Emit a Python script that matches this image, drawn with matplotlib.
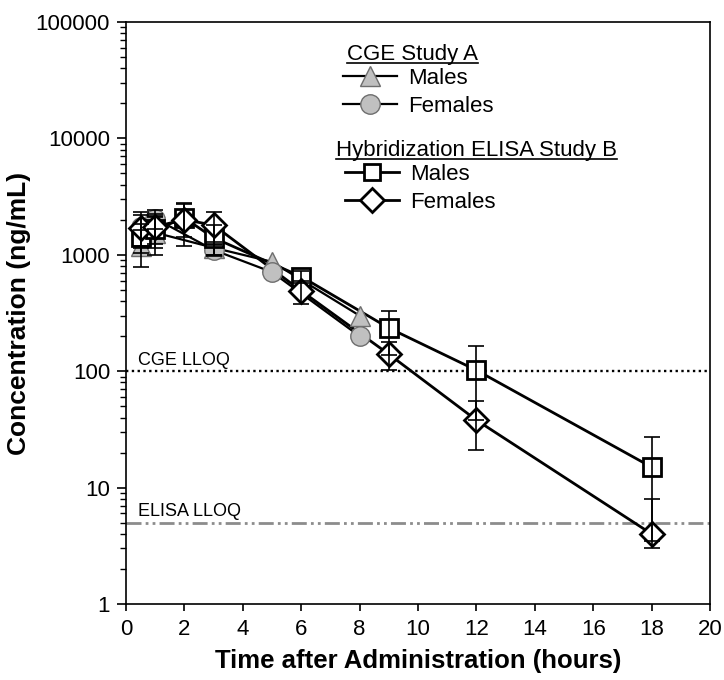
import matplotlib
matplotlib.use("Agg")
import matplotlib.pyplot as plt
from matplotlib.lines import Line2D
import numpy as np

# ---- data ----
cge_time = [0.5, 1, 3, 5, 8]
cge_males = [1200, 1550, 1150, 870, 300]
cge_males_err = [420, 550, 150, np.nan, np.nan]
cge_females = [1750, 2050, 1100, 710, 200]
cge_females_err = [600, 400, 120, np.nan, np.nan]

elisa_time = [0.5, 1, 2, 3, 6, 9, 12, 18]
elisa_males = [1430, 1650, 2070, 1400, 650, 235, 102, 15]
elisa_males_err = [400, 500, 660, 400, 80, 96, 64, 12]
elisa_females = [1700, 1750, 2000, 1800, 490, 140, 38, 4]
elisa_females_err_low = [500, 500, 800, 550, 110, 38, 17, 0.5]
elisa_females_err_high = [500, 500, 800, 550, 110, 38, 17, 4]

cge_lloq = 100
elisa_lloq = 5

xticks = [0, 2, 4, 6, 8, 10, 12, 14, 16, 18, 20]
yticks = [1, 10, 100, 1000, 10000, 100000]
ytick_labels = ["1", "10", "100", "1000", "10000", "100000"]

plt.rcParams['font.family'] = ['Liberation Sans', 'DejaVu Sans']

fig = plt.figure(figsize=(7.24, 6.8), dpi=100)
ax = fig.add_axes([126/724, 76/680, 584/724, 582/680])
ax.set_yscale('log')
ax.set_xlim(0, 20)
ax.set_ylim(1, 100000)

grey_fill = '#c0c0c0'
grey_edge = '#6e6e6e'

# LLOQ lines
ax.axhline(cge_lloq, color='black', lw=1.7, ls=(0, (1, 1.45)), zorder=1)
ax.axhline(elisa_lloq, color='#8c8c8c', lw=2, ls=(0, (5.4, 1.5, 1, 1.5, 1, 1.5)), zorder=1)
ax.text(0.41, cge_lloq * 1.13, 'CGE LLOQ', fontsize=13, ha='left', va='baseline')
ax.text(0.41, elisa_lloq * 1.13, 'ELISA LLOQ', fontsize=13, ha='left', va='baseline')

# lines
ax.plot(cge_time, cge_males, color='black', lw=1.6, zorder=2)
ax.plot(cge_time, cge_females, color='black', lw=1.6, zorder=2)
ax.plot(elisa_time, elisa_males, color='black', lw=2.0, zorder=2)
ax.plot(elisa_time, elisa_females, color='black', lw=2.0, zorder=2)

# markers
ax.plot(cge_time, cge_males, ls='none', marker='^', ms=14, mfc=grey_fill, mec=grey_edge, mew=1.0, zorder=3)
ax.plot(cge_time, cge_females, ls='none', marker='o', ms=14, mfc=grey_fill, mec=grey_edge, mew=1.0, zorder=3)
ax.plot(elisa_time, elisa_males, ls='none', marker='s', ms=12.5, mfc='white', mec='black', mew=2.0, zorder=4)
ax.plot(elisa_time, elisa_females, ls='none', marker='D', ms=12, mfc='white', mec='black', mew=2.0, zorder=4)

# error bars (on top)
eb = dict(fmt='none', ecolor='black', elinewidth=1.2, capsize=6, capthick=1.2, zorder=5)
ax.errorbar(cge_time, cge_males, yerr=cge_males_err, **eb)
ax.errorbar(cge_time, cge_females, yerr=cge_females_err, **eb)
ax.errorbar(elisa_time, elisa_males, yerr=elisa_males_err, **eb)
ax.errorbar(elisa_time, elisa_females, yerr=[elisa_females_err_low, elisa_females_err_high], **eb)

# axes styling
ax.set_xticks(xticks)
ax.set_xticklabels([str(t) for t in xticks])
ax.set_yticks(yticks)
ax.set_yticklabels(ytick_labels)
ax.yaxis.set_minor_locator(matplotlib.ticker.LogLocator(base=10, subs=np.arange(2, 10), numticks=20))
ax.yaxis.set_minor_formatter(matplotlib.ticker.NullFormatter())
ax.tick_params(which='major', direction='out', length=6.5, width=1.2, labelsize=16, pad=5)
ax.tick_params(which='minor', direction='out', length=4.3, width=1.0)
ax.tick_params(axis='x', which='major', length=5, pad=6)
for s in ax.spines.values():
    s.set_linewidth(1.2)
ax.set_xlabel('Time after Administration (hours)', fontsize=18.5, fontweight='bold', labelpad=6)
ax.set_ylabel('Concentration (ng/mL)', fontsize=19, fontweight='bold', labelpad=3)

# legend
tri_h = Line2D([], [], color='black', lw=1.6, marker='^', ms=14, mfc=grey_fill, mec=grey_edge, mew=1.0)
cir_h = Line2D([], [], color='black', lw=1.6, marker='o', ms=14, mfc=grey_fill, mec=grey_edge, mew=1.0)
sq_h = Line2D([], [], color='black', lw=2.0, marker='s', ms=11, mfc='white', mec='black', mew=2.0)
di_h = Line2D([], [], color='black', lw=2.0, marker='D', ms=12.5, mfc='white', mec='black', mew=2.0)

common = dict(frameon=False, fontsize=16, handlelength=2.45, handletextpad=0.5,
              labelspacing=0.3, borderpad=0, borderaxespad=0, loc='center left')
leg1 = ax.legend([tri_h, cir_h], ['Males', 'Females'], bbox_to_anchor=(0.3716, 0.879), **common)
ax.add_artist(leg1)
leg2 = ax.legend([sq_h, di_h], ['Males', 'Females'], bbox_to_anchor=(0.375, 0.714), **common)

h1 = ax.text(0.378, 0.944, 'CGE Study A', transform=ax.transAxes, fontsize=16, ha='left', va='center')
h2 = ax.text(0.360, 0.7795, 'Hybridization ELISA Study B', transform=ax.transAxes, fontsize=16, ha='left', va='center')

fig.canvas.draw()
r = fig.canvas.get_renderer()
for h in (h1, h2):
    bb = h.get_window_extent(r)
    y = bb.y0 + 2
    fig.add_artist(Line2D([bb.x0 / fig.bbox.width, bb.x1 / fig.bbox.width],
                          [y / fig.bbox.height, y / fig.bbox.height],
                          transform=fig.transFigure, color='black', lw=1.2))

fig.savefig('out.png', dpi=100)
